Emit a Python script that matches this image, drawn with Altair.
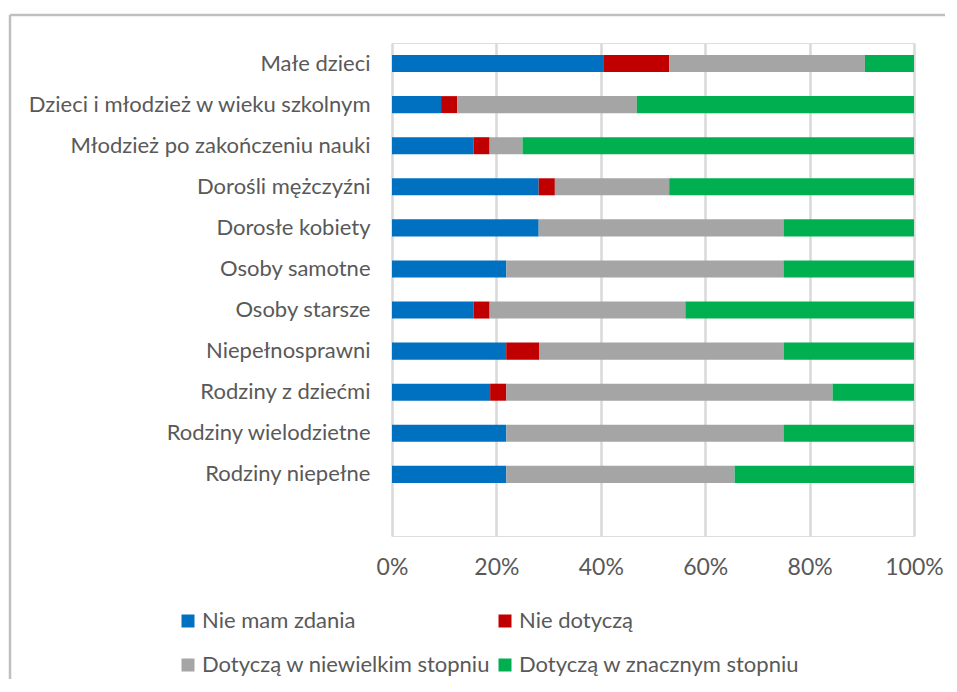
import altair as alt
import pandas as pd

categories = [
    "Małe dzieci",
    "Dzieci i młodzież w wieku szkolnym",
    "Młodzież po zakończeniu nauki",
    "Dorośli mężczyźni",
    "Dorosłe kobiety",
    "Osoby samotne",
    "Osoby starsze",
    "Niepełnosprawni",
    "Rodziny z dziećmi",
    "Rodziny wielodzietne",
    "Rodziny niepełne",
]
series = [
    "Nie mam zdania",
    "Nie dotyczą",
    "Dotyczą w niewielkim stopniu",
    "Dotyczą w znacznym stopniu",
]
colors = ["#0070C0", "#C00000", "#A5A5A5", "#00B050"]

nie_mam_zdania = [40.6, 9.4, 15.6, 28.1, 28.1, 21.9, 15.6, 21.9, 18.8, 21.9, 21.9]
nie_dotycza = [12.5, 3.1, 3.1, 3.1, 0.0, 0.0, 3.1, 6.3, 3.1, 0.0, 0.0]
niewielkim = [37.5, 34.4, 6.3, 21.9, 46.9, 53.1, 37.5, 46.9, 62.5, 53.1, 43.8]
znacznym = [9.4, 53.1, 75.0, 46.9, 25.0, 25.0, 43.8, 25.0, 15.6, 25.0, 34.4]

rows = []
for vals, s_i in zip([nie_mam_zdania, nie_dotycza, niewielkim, znacznym], range(4)):
    for c, v in zip(categories, vals):
        rows.append({"kategoria": c, "seria": series[s_i], "ord": s_i, "wartosc": v})
df = pd.DataFrame(rows)

FONT = "Lato"
TXT = "#595959"

# legend is laid out column by column: put series so rows read 0,1 / 2,3
legend_order = [series[0], series[2], series[1], series[3]]
legend_colors = [colors[0], colors[2], colors[1], colors[3]]

bars = alt.Chart(df).mark_bar().encode(
    y=alt.Y(
        "kategoria:N",
        sort=None,
        title=None,
        scale=alt.Scale(domain=categories + [" "], paddingInner=0.586, paddingOuter=0.293),
        axis=alt.Axis(domain=False, ticks=False, labelPadding=22, labelFontSize=22,
                      labelColor=TXT, labelFont=FONT, labelLimit=400),
    ),
    x=alt.X(
        "wartosc:Q",
        stack="normalize",
        title=None,
        scale=alt.Scale(domain=[0, 1], nice=False),
        axis=alt.Axis(format="%", values=[0, 0.2, 0.4, 0.6, 0.8, 1.0], domain=False, ticks=False,
                      grid=True, gridColor="#D9D9D9", gridWidth=2.5, labelPadding=20,
                      labelFlush=False, labelFontSize=23, labelColor=TXT, labelFont=FONT),
    ),
    color=alt.Color(
        "seria:N",
        scale=alt.Scale(domain=legend_order, range=legend_colors),
        legend=alt.Legend(
            title=None, orient="none", legendX=-215, legendY=567, columns=2,
            symbolType="square", symbolSize=169, symbolStrokeWidth=0,
            labelFontSize=22, labelColor=TXT, labelFont=FONT, labelOffset=3,
            columnPadding=3, rowPadding=22, padding=0, labelLimit=400,
        ),
    ),
    order=alt.Order("ord:Q"),
)

frame_df = pd.DataFrame({"k": [0]})
left_border = alt.Chart(frame_df).mark_rule(color="#BFBFBF", strokeWidth=2.5).encode(
    x=alt.value(-382), y=alt.value(-28), y2=alt.value(636)
)
top_border = alt.Chart(frame_df).mark_rule(color="#BFBFBF", strokeWidth=2.5).encode(
    x=alt.value(-382), x2=alt.value(553), y=alt.value(-28)
)

chart = alt.layer(left_border, top_border, bars).properties(
    width=522, height=493,
    padding={"left": 0, "top": 5, "right": 0, "bottom": 0},
).configure_view(stroke=None).configure(background="white")

chart.save("out.html", embed_options={"renderer": "svg", "actions": False})
